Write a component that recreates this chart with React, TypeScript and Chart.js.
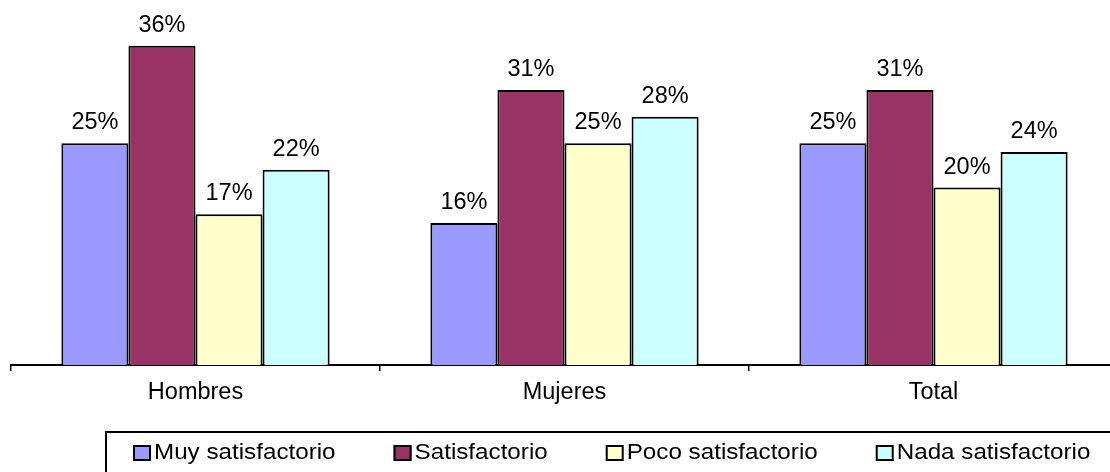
import React, { useEffect, useRef } from "react";
import { Chart, registerables } from "chart.js";

Chart.register(...registerables);

const categories = ["Hombres", "Mujeres", "Total"];
const seriesNames = ["Muy satisfactorio", "Satisfactorio", "Poco satisfactorio", "Nada satisfactorio"];
const muySatisfactorio = [25, 16, 25];
const satisfactorio = [36, 31, 31];
const pocoSatisfactorio = [17, 25, 20];
const nadaSatisfactorio = [22, 28, 24];
const seriesValues = [muySatisfactorio, satisfactorio, pocoSatisfactorio, nadaSatisfactorio];
const seriesColors = ["#9999FF", "#993366", "#FFFFCC", "#CCFFFF"];
const yMax = 40;

const FONT = '"Liberation Sans", Arial, sans-serif';

const valueLabelPlugin = {
  id: "valueLabels",
  afterDatasetsDraw(chart: any) {
    const ctx = chart.ctx;
    ctx.save();
    ctx.font = `23.5px ${FONT}`;
    ctx.fillStyle = "#000";
    ctx.textAlign = "center";
    ctx.textBaseline = "alphabetic";
    chart.data.datasets.forEach((ds: any, i: number) => {
      const meta = chart.getDatasetMeta(i);
      meta.data.forEach((el: any, j: number) => {
        ctx.fillText(`${ds.data[j]}%`, el.x, el.y - 14);
      });
    });
    ctx.restore();
  },
};

const legendBoxPlugin = {
  id: "legendBox",
  afterDraw(chart: any) {
    const ctx = chart.ctx;
    ctx.save();
    ctx.lineWidth = 2;
    ctx.strokeStyle = "#000";
    ctx.strokeRect(106, 432, 1100, 80);
    const stretch = 1.1;
    ctx.font = `22px ${FONT}`;
    ctx.textBaseline = "alphabetic";
    ctx.textAlign = "left";
    let x = 133;
    chart.data.datasets.forEach((ds: any) => {
      ctx.fillStyle = ds.backgroundColor;
      ctx.fillRect(x, 445, 18, 16);
      ctx.lineWidth = 2;
      ctx.strokeStyle = "#000";
      ctx.strokeRect(x + 1, 446, 16, 14);
      const tx = x + 21;
      const w = ctx.measureText(ds.label).width * stretch;
      ctx.save();
      ctx.translate(tx, 459);
      ctx.scale(stretch, 1);
      ctx.fillStyle = "#000";
      ctx.fillText(ds.label, 0, 0);
      ctx.restore();
      x = tx + w + 58;
    });
    ctx.restore();
  },
};

export default function App() {
  const ref = useRef<HTMLCanvasElement | null>(null);

  useEffect(() => {
    if (!ref.current) return;
    const chart = new Chart(ref.current, {
      type: "bar",
      data: {
        labels: categories,
        datasets: seriesNames.map((name, i) => ({
          label: name,
          data: seriesValues[i],
          backgroundColor: seriesColors[i],
          borderColor: "#000",
          borderWidth: 2,
          borderSkipped: "start",
          categoryPercentage: 0.727,
          barPercentage: 1,
        })),
      },
      options: {
        responsive: false,
        animation: false,
        devicePixelRatio: 1,
        layout: { padding: { left: 11, right: 12, top: 10.2, bottom: 0 } },
        plugins: {
          legend: { display: false },
          tooltip: { enabled: false },
          title: { display: false },
        },
        scales: {
          x: {
            z: 1,
            grid: {
              offset: true,
              drawOnChartArea: false,
              drawTicks: true,
              tickLength: 6,
              color: "#000",
              lineWidth: 1.5,
            },
            border: { display: true, color: "#000", width: 2 },
            ticks: {
              color: "#000",
              font: { family: FONT, size: 23.5 },
              padding: 7,
            },
            afterFit: (scale: any) => {
              scale.height = 107;
            },
          },
          y: {
            display: false,
            min: 0,
            max: yMax,
          },
        },
      },
      plugins: [valueLabelPlugin, legendBoxPlugin],
    });
    return () => chart.destroy();
  }, []);

  return (
    <div
      style={{
        position: "fixed",
        left: 0,
        top: 0,
        width: 1110,
        height: 472,
        overflow: "hidden",
        background: "#fff",
      }}
    >
      <canvas ref={ref} width={1130} height={472} style={{ display: "block" }} />
    </div>
  );
}
